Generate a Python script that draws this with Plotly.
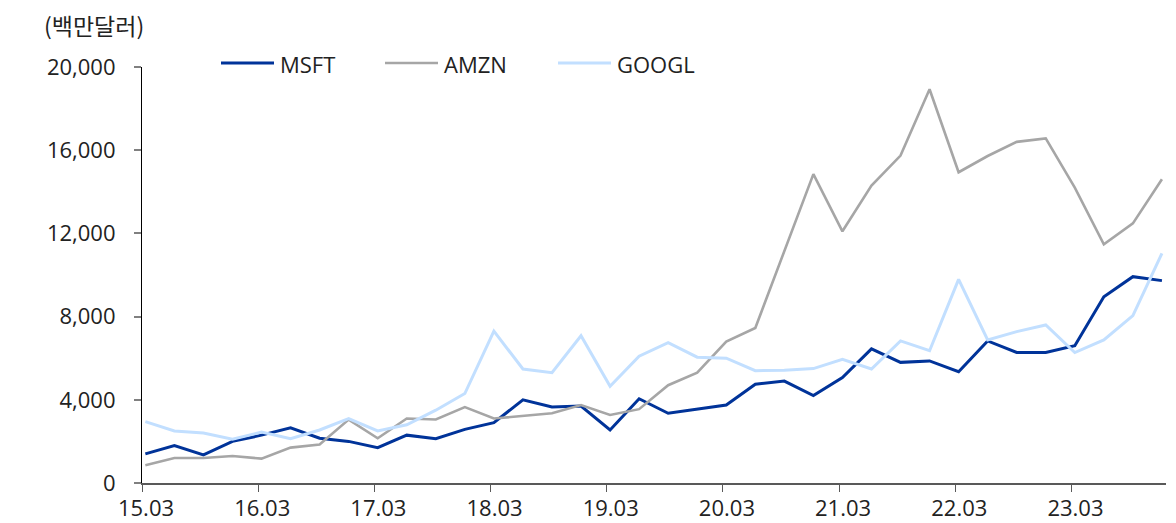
import plotly.graph_objects as go

periods = [f"{y:02d}.{m:02d}" for y in range(15, 24) for m in (3, 6, 9, 12)]
tick_labels = ["15.03", "16.03", "17.03", "18.03", "19.03", "20.03", "21.03", "22.03", "23.03"]

msft = [1400, 1800, 1350, 2000, 2300, 2650, 2150, 2000, 1700, 2300, 2130, 2580,
        2900, 4000, 3650, 3700, 2550, 4050, 3350, 3550, 3750, 4750, 4900, 4200,
        5070, 6450, 5800, 5870, 5350, 6830, 6280, 6270, 6600, 8950, 9920, 9730]
amzn = [850, 1200, 1200, 1300, 1170, 1700, 1850, 3050, 2150, 3100, 3050, 3650,
        3100, 3220, 3350, 3750, 3270, 3550, 4700, 5300, 6800, 7450, 11100, 14850,
        12100, 14300, 15740, 18930, 14940, 15720, 16400, 16570, 14200, 11470, 12480, 14600]
googl = [2950, 2500, 2400, 2100, 2450, 2130, 2550, 3100, 2500, 2800, 3500, 4300,
         7300, 5480, 5300, 7080, 4650, 6100, 6750, 6050, 6000, 5400, 5420, 5500,
         5950, 5480, 6830, 6360, 9790, 6875, 7280, 7600, 6270, 6880, 8050, 11040]

series = [("MSFT", msft, "#003399", 3), ("AMZN", amzn, "#a6a6a6", 2.6), ("GOOGL", googl, "#c2dfff", 3)]

FONT = "Open Sans, Noto Sans CJK KR"
KFONT = "Noto Sans CJK KR"
PAGE = 8  # browser body margin
W, H = 1176 - PAGE, 523 - PAGE
ml, mr, mt, mb = 142 - PAGE, 10, 67 - PAGE, 40
off = -0.115
x_idx = list(range(len(periods)))
tickvals = [periods.index(t) + off for t in tick_labels]

fig = go.Figure()
for name, vals, color, width in series:
    fig.add_trace(go.Scatter(x=x_idx, y=vals, name=name, mode="lines",
                             line=dict(color=color, width=width),
                             showlegend=False, customdata=periods,
                             hovertemplate="%{customdata}: %{y:,}<extra>" + name + "</extra>"))

# manual legend (page pixel positions converted to paper coords)
pw = W - ml - mr
ph = H - mt - mb
def px(xp):
    return (xp - PAGE - ml) / pw
def py(yp):
    return (H - mb - (yp - PAGE)) / ph

leg_x = [221, 385, 558]
leg_y = 63
for (name, vals, color, width), lx in zip(series, leg_x):
    fig.add_shape(type="line", xref="paper", yref="paper", x0=px(lx), x1=px(lx + 53),
                  y0=py(leg_y), y1=py(leg_y), line=dict(color=color, width=width))
    fig.add_annotation(xref="paper", yref="paper", x=px(lx + 57), y=py(leg_y + 1),
                       text=name, showarrow=False, xanchor="left", yanchor="middle",
                       font=dict(family=FONT, size=22, color="#222222"))

fig.add_annotation(xref="paper", yref="paper", x=px(42), y=py(25),
                   text="(백만달러)", showarrow=False, xanchor="left", yanchor="middle",
                   font=dict(family=KFONT, size=23, color="#222222"))

fig.update_layout(
    width=W, height=H,
    margin=dict(l=ml, r=mr, t=mt, b=mb, pad=0, autoexpand=False),
    paper_bgcolor="white", plot_bgcolor="white",
    font=dict(family=FONT, size=22, color="#222222"),
    xaxis=dict(range=[off, 35.14], tickmode="array", tickvals=tickvals, ticktext=tick_labels,
               showgrid=False, zeroline=False, showline=True, linecolor="#595959", linewidth=1.5,
               ticks="outside", ticklen=7, tickcolor="#595959", tickwidth=1.2,
               ticklabelshift=4, ticklabelstandoff=-2, automargin=False,
               tickfont=dict(family=FONT, size=22, color="#222222")),
    yaxis=dict(range=[0, 20000], dtick=4000, tickformat=",", showgrid=False, zeroline=False,
               showline=True, linecolor="#000000", linewidth=1.2,
               ticks="outside", ticklen=7, tickcolor="#808080", tickwidth=1.5,
               ticklabelstandoff=14, automargin=False,
               tickfont=dict(family=FONT, size=22, color="#222222")),
)

fig.write_html("out.html")
